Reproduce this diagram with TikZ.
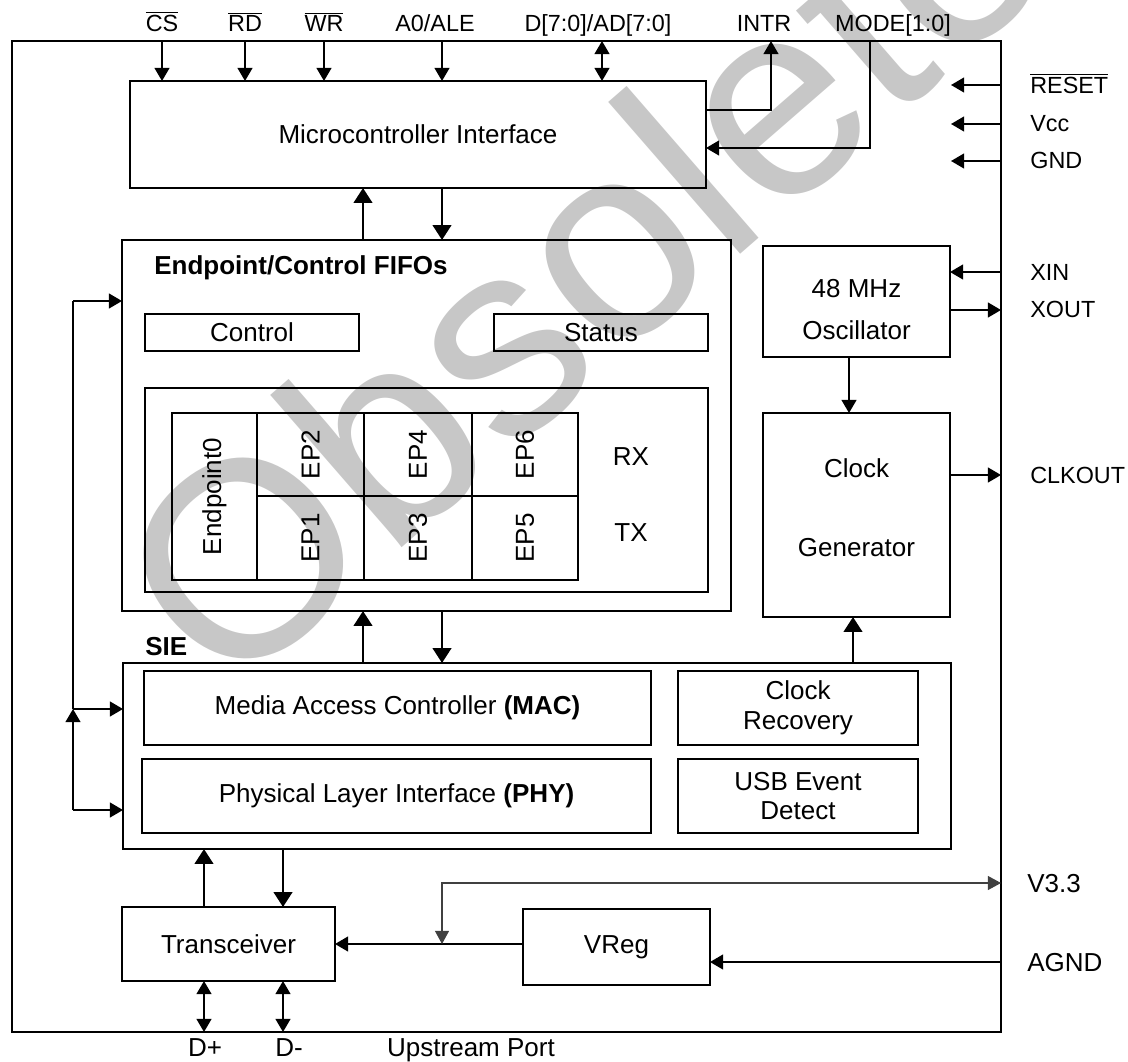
\documentclass[tikz,border=0pt]{standalone}
\usepackage{fontspec}
\setmainfont{Liberation Sans}
\usetikzlibrary{arrows.meta,positioning}

\newcommand{\pxu}{0.02cm}
\newcommand{\blkfont}{\fontsize{14.8pt}{17pt}\selectfont}
\newcommand{\pinfont}{\fontsize{13.3pt}{16pt}\selectfont}
\newcommand{\ovl}[1]{$\overline{\mbox{#1}}$}

\begin{document}
\begin{tikzpicture}[
  x=0.02cm, y=-0.02cm,
  blk/.style={draw, line width=1.1pt, outer sep=0pt, inner sep=0pt,
              align=center, font=\blkfont},
  thinblk/.style={blk, line width=0.6pt},
  cell/.style={blk, rotate=90},
  title/.style={font=\blkfont\bfseries, anchor=base west, inner sep=0pt},
  toplbl/.style={font=\pinfont, anchor=base, inner sep=0pt},
  sidelbl/.style={font=\pinfont, anchor=base west, inner sep=0pt},
  pin/.style={line width=1pt, ->, >={Triangle[width=8.5pt,length=7.5pt]}},
  bus/.style={line width=1.6pt, ->, >={Triangle[width=10.5pt,length=8.5pt]}},
  vline/.style={line width=0.6pt, draw=black!75, <->,
                >={Triangle[width=8pt,length=7.5pt]}},
]
  \useasboundingbox (0,0) rectangle (1128,1061);

  %% ---- watermark ----
  \node[text=black!22, rotate=41, inner sep=0pt,
        font=\fontsize{158pt}{158pt}\selectfont] (wmark) at (580,262) {Obsolete};

  %% ---- chip outline ----
  \node[blk, minimum width=989*\pxu, minimum height=991*\pxu] (chip) at (506.5,536.5) {};

  %% ---- microcontroller interface ----
  \node[blk, minimum width=576*\pxu, minimum height=107*\pxu] (mci) at (418,134.5)
    {Microcontroller Interface};

  %% ---- endpoint/control FIFOs ----
  \node[blk, minimum width=609*\pxu, minimum height=371*\pxu] (fifo) at (426.5,425.5) {};
  \node[title] (fifot) at (154,274) {Endpoint/Control FIFOs};
  \node[thinblk, minimum width=214*\pxu, minimum height=37*\pxu] (ctrl) at (252,332.5) {Control};
  \node[thinblk, minimum width=214*\pxu, minimum height=37*\pxu] (stat) at (601,332.5) {Status};
  \node[thinblk, minimum width=563*\pxu, minimum height=204*\pxu] (epbox) at (426.5,490) {};
  \node[cell, minimum width=167*\pxu, minimum height=85*\pxu]  (ep0) at (214.5,496.5) {Endpoint0};
  \node[cell, minimum width=83*\pxu,  minimum height=107*\pxu] (ep2) at (310.5,454.5) {EP2};
  \node[cell, minimum width=84*\pxu,  minimum height=107*\pxu] (ep1) at (310.5,538)   {EP1};
  \node[cell, minimum width=83*\pxu,  minimum height=108*\pxu] (ep4) at (418,454.5)   {EP4};
  \node[cell, minimum width=84*\pxu,  minimum height=108*\pxu] (ep3) at (418,538)     {EP3};
  \node[cell, minimum width=83*\pxu,  minimum height=106*\pxu] (ep6) at (525,454.5)   {EP6};
  \node[cell, minimum width=84*\pxu,  minimum height=106*\pxu] (ep5) at (525,538)     {EP5};
  \node[font=\blkfont] (rx) at (631,457) {RX};
  \node[font=\blkfont] (tx) at (631,533) {TX};

  %% ---- clocking ----
  \node[blk, minimum width=187*\pxu, minimum height=111*\pxu] (osc) at (856.5,301.5) {};
  \node[font=\blkfont, align=center] (osctxt) at (856.5,309.5) {48 MHz\\[7pt]Oscillator};
  \node[blk, minimum width=187*\pxu, minimum height=204*\pxu] (clk) at (856.5,515) {};
  \node[font=\blkfont, align=center] (clktxt) at (856.5,508) {Clock\\[28pt]Generator};

  %% ---- SIE ----
  \node[thinblk, minimum width=828*\pxu, minimum height=186*\pxu] (sie) at (537,756) {};
  \node[title] (sielbl) at (145,655) {SIE};
  \node[blk, minimum width=507*\pxu, minimum height=74*\pxu] (mac) at (397.5,708)
    {Media Access Controller \textbf{(MAC)}};
  \node[blk, minimum width=509*\pxu, minimum height=74*\pxu] (phy) at (396.5,796)
    {Physical Layer Interface \textbf{(PHY)}};
  \node[blk, minimum width=240*\pxu, minimum height=74*\pxu] (crec) at (798,708)
    {Clock\\Recovery};
  \node[blk, minimum width=240*\pxu, minimum height=74*\pxu] (usbev) at (798,796)
    {USB Event\\Detect};

  %% ---- transceiver / regulator ----
  \node[blk, minimum width=213*\pxu, minimum height=74*\pxu] (xcvr) at (228.5,944) {Transceiver};
  \node[blk, minimum width=187*\pxu, minimum height=76*\pxu] (vreg) at (616.5,947) {VReg};

  %% ---- pins on the outline ----
  \coordinate (cs)    at (162,41);
  \coordinate (rd)    at (245,41);
  \coordinate (wr)    at (324,41);
  \coordinate (ale)   at (442,41);
  \coordinate (dbus)  at (602,41);
  \coordinate (intr)  at (771,41);
  \coordinate (mode)  at (870,41);
  \coordinate (rst)   at (1001,85);   \coordinate (rstend) at (951,85);
  \coordinate (vcc)   at (1001,124);  \coordinate (vccend) at (951,124);
  \coordinate (gnd)   at (1001,161);  \coordinate (gndend) at (951,161);
  \coordinate (xin)   at (1001,272);
  \coordinate (xout)  at (1001,310);
  \coordinate (clko)  at (1001,475);
  \coordinate (v33)   at (1001,883);
  \coordinate (vtap)  at (442,944);
  \coordinate (agnd)  at (1001,962);
  \coordinate (dp)    at (204,1032);
  \coordinate (dm)    at (283,1032);
  \coordinate (lbtop) at (73,301);
  \coordinate (lbmid) at (73,709);
  \coordinate (lbbot) at (73,810);

  %% ---- pin labels ----
  \node[toplbl] (cslbl)   at (162,31.5) {\ovl{CS}};
  \node[toplbl] (rdlbl)   at (245,31.5) {\ovl{RD}};
  \node[toplbl] (wrlbl)   at (324,31.5) {\ovl{WR}};
  \node[toplbl] (alelbl)  at (435,31.5) {A0/ALE};
  \node[toplbl] (dlbl)    at (598,31.5) {D[7:0]/AD[7:0]};
  \node[toplbl] (intrlbl) at (764,31.5) {INTR};
  \node[toplbl] (modelbl) at (893,31.5) {MODE[1:0]};
  \node[sidelbl] (rstlbl)  at (1030,93)  {\ovl{RESET}};
  \node[sidelbl] (vcclbl)  at (1030,132) {Vcc};
  \node[sidelbl] (gndlbl)  at (1030,168) {GND};
  \node[sidelbl] (xinlbl)  at (1030,280) {XIN};
  \node[sidelbl] (xoutlbl) at (1030,317) {XOUT};
  \node[sidelbl] (clklbl)  at (1030,483) {CLKOUT};
  \node[sidelbl, font=\blkfont] (v33lbl)  at (1027,892) {V3.3};
  \node[sidelbl, font=\blkfont] (agndlbl) at (1027,971) {AGND};
  \node[toplbl, font=\blkfont] (dplbl) at (205,1056) {D+};
  \node[toplbl, font=\blkfont] (dmlbl) at (289,1056) {D-};
  \node[toplbl, font=\blkfont] (uplbl) at (471,1056) {Upstream Port};

  %% ---- microcontroller side ----
  \draw[pin] (cs)  -- (mci.north -| cs);
  \draw[pin] (rd)  -- (mci.north -| rd);
  \draw[pin] (wr)  -- (mci.north -| wr);
  \draw[pin] (ale) -- (mci.north -| ale);
  \draw[pin, <->] (dbus) -- (mci.north -| dbus);
  \draw[pin] (mci.east |- 0,110) -| (intr);
  \draw[pin] (mode) |- (mci.east |- 0,148);
  \draw[pin] (rst) -- (rstend);
  \draw[pin] (vcc) -- (vccend);
  \draw[pin] (gnd) -- (gndend);

  %% ---- internal buses ----
  \draw[bus] (fifo.north -| 363,0) -- (mci.south -| 363,0);
  \draw[bus] (mci.south -| 442,0) -- (fifo.north -| 442,0);
  \draw[bus] (sie.north -| 363,0) -- (fifo.south -| 363,0);
  \draw[bus] (fifo.south -| 442,0) -- (sie.north -| 442,0);
  \draw[bus] (sie.north -| 853,0) -- (clk.south -| 853,0);
  \draw[bus] (xcvr.north -| 204,0) -- (sie.south -| 204,0);
  \draw[bus] (sie.south -| 283,0) -- (xcvr.north -| 283,0);

  %% ---- left control bus ----
  \draw[pin] (lbtop) -- (fifo.west |- lbtop);
  \draw[line width=1pt] (lbtop) -- (lbmid);
  \draw[pin] (lbmid) -- (sie.west |- lbmid);
  \draw[pin] (lbbot) -- (sie.west |- lbbot);
  \draw[pin] (lbbot) -- (lbmid);

  %% ---- clock pins ----
  \draw[pin] (xin) -- (osc.east |- xin);
  \draw[pin] (osc.east |- xout) -- (xout);
  \draw[pin] (osc.south -| 849,0) -- (clk.north -| 849,0);
  \draw[pin] (clk.east |- clko) -- (clko);

  %% ---- power and upstream port ----
  \draw[pin] (vreg.west |- xcvr.east) -- (xcvr.east);
  \draw[vline] (vtap) |- (v33);
  \draw[pin] (agnd) -- (vreg.east |- agnd);
  \draw[pin, <->] (xcvr.south -| dp) -- (dp);
  \draw[pin, <->] (xcvr.south -| dm) -- (dm);
\end{tikzpicture}
\end{document}
